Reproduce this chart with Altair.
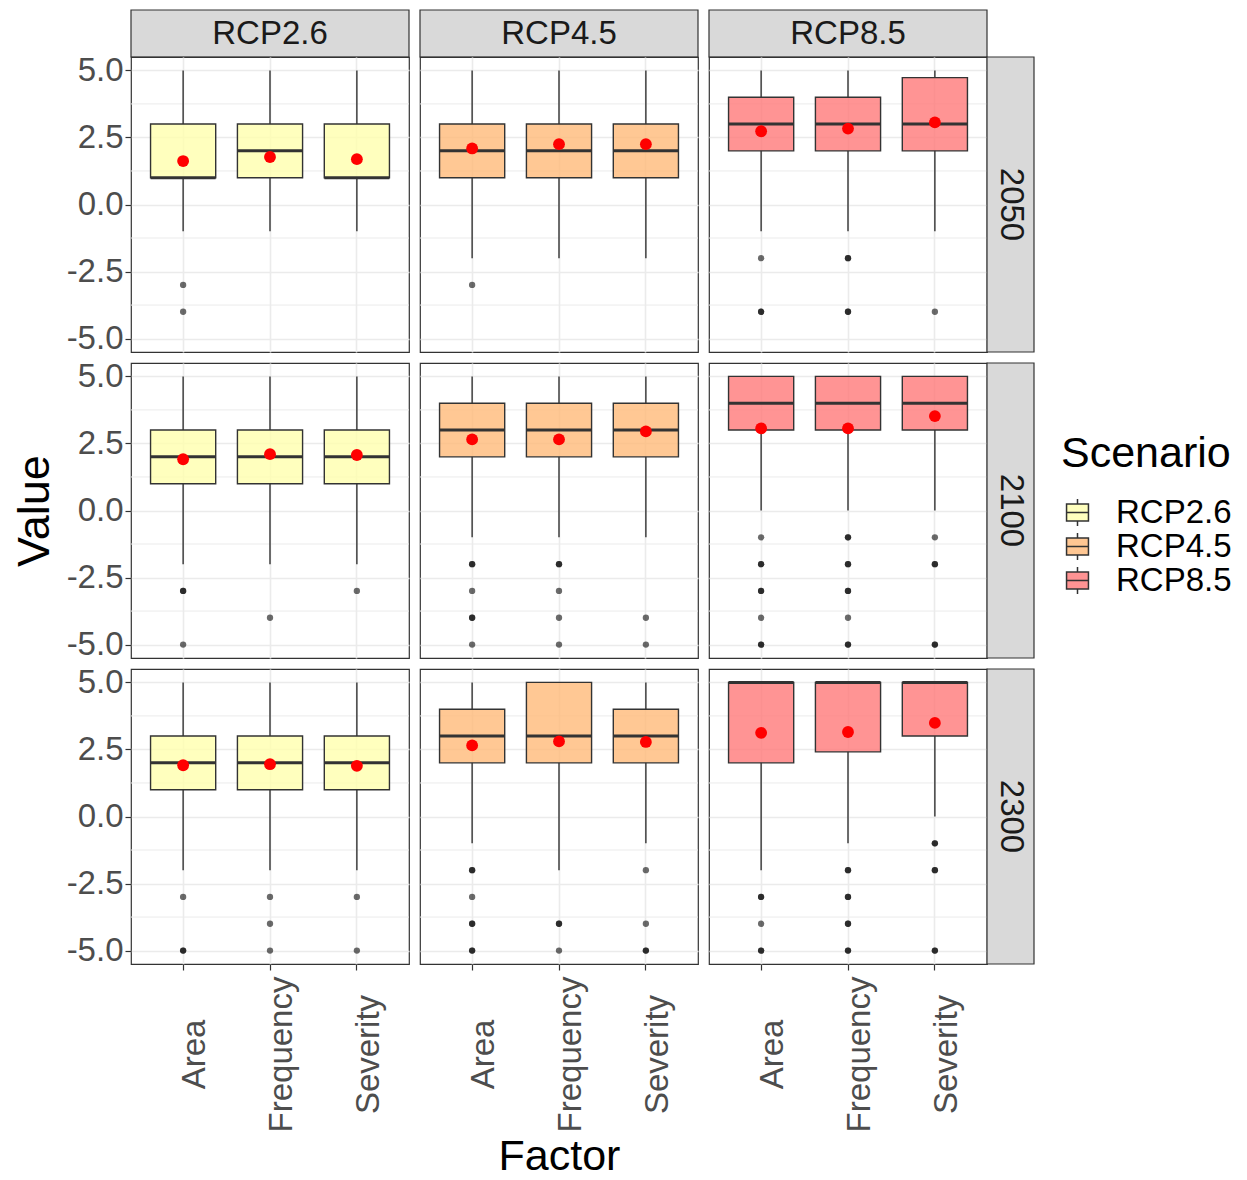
import altair as alt
import pandas as pd

scenarios = ["RCP2.6", "RCP4.5", "RCP8.5"]
years = ["2050", "2100", "2300"]
factors = ["Area", "Frequency", "Severity"]
fill_colors = ["#FFFFAE", "#FFBA79", "#FF7979"]

y_ticks = [-5.0, -2.5, 0.0, 2.5, 5.0]
minor_breaks = [-3.75, -1.25, 1.25, 3.75]

# stat[year][scenario] = [Area, Frequency, Severity]
lower = [
    [[-1, -1, -1], [-2, -2, -2], [-1, -1, -1]],
    [[-2, -2, -2], [-1, -1, -1], [0, 0, 0]],
    [[-2, -2, -2], [-1, -2, -1], [-2, -1, 0]],
]
q1 = [
    [[1, 1, 1], [1, 1, 1], [2, 2, 2]],
    [[1, 1, 1], [2, 2, 2], [3, 3, 3]],
    [[1, 1, 1], [2, 2, 2], [2, 2.41, 3]],
]
median = [
    [[1, 2, 1], [2, 2, 2], [3, 3, 3]],
    [[2, 2, 2], [3, 3, 3], [4, 4, 4]],
    [[2, 2, 2], [3, 3, 3], [5, 5, 5]],
]
q3 = [
    [[3, 3, 3], [3, 3, 3], [4, 4, 4.73]],
    [[3, 3, 3], [4, 4, 4], [5, 5, 5]],
    [[3, 3, 3], [4, 5, 4], [5, 5, 5]],
]
upper = [
    [[5, 5, 5], [5, 5, 5], [5, 5, 5]],
    [[5, 5, 5], [5, 5, 5], [5, 5, 5]],
    [[5, 5, 5], [5, 5, 5], [5, 5, 5]],
]
means = [
    [[1.62, 1.77, 1.69], [2.09, 2.25, 2.25], [2.73, 2.83, 3.06]],
    [[1.91, 2.10, 2.07], [2.65, 2.65, 2.95], [3.06, 3.06, 3.52]],
    [[1.91, 1.95, 1.89], [2.65, 2.80, 2.78], [3.12, 3.15, 3.49]],
]
outliers = [
    [
        [[-3, -4], [], []],
        [[-3], [], []],
        [[-2, -4, -4], [-2, -2, -4, -4], [-4]],
    ],
    [
        [[-3, -3, -5], [-4], [-3]],
        [[-2, -2, -3, -4, -4, -5], [-2, -2, -3, -4, -5], [-4, -5]],
        [[-1, -2, -2, -3, -3, -4, -5, -5], [-1, -1, -2, -2, -3, -3, -4, -5, -5], [-1, -2, -2, -5, -5]],
    ],
    [
        [[-3, -5, -5], [-3, -4, -5], [-3, -5]],
        [[-2, -2, -3, -4, -4, -5, -5], [-4, -4, -5], [-2, -4, -5, -5]],
        [[-3, -3, -4, -5, -5], [-2, -2, -3, -3, -4, -4, -5, -5], [-1, -1, -2, -2, -5, -5]],
    ],
]

FONT = "Liberation Sans"
PW, PH = 278, 295
SP = 11
STRIP = 47
DARK = "#333333"

legend_path = ("M-0.73,-0.57L0.73,-0.57L0.73,0.57L-0.73,0.57Z "
               "M-0.73,0L0.73,0 M0,-0.57L0,-0.9 M0,0.57L0,0.9")

yscale = alt.Scale(domain=[-5.5, 5.5], nice=False, zero=False)
xscale = alt.Scale(domain=factors, paddingInner=0.25, paddingOuter=0.225)
fill_scale = alt.Scale(domain=scenarios, range=fill_colors)
legend = alt.Legend(
    title="Scenario", orient="none", legendX=930, legendY=423,
    titleFontSize=43, titleFont=FONT, titleFontWeight="normal", titleColor="black",
    labelFontSize=33, labelFont=FONT, labelColor="black",
    symbolType=legend_path, symbolSize=900, symbolStrokeColor="black",
    symbolStrokeWidth=1.5, symbolOpacity=0.8, labelOffset=22,
    rowPadding=0, titlePadding=20, padding=0,
)
minus_fix = "replace(format(datum.value, '.1f'), '\u2212', '-')"


def y_axis(show, title):
    if show:
        return alt.Axis(values=y_ticks, labelExpr=minus_fix, labelFontSize=33,
                        labelFont=FONT, labelColor="#4D4D4D", labelPadding=2,
                        ticks=True, tickSize=6, tickColor=DARK, tickWidth=1.2,
                        domain=False, grid=True, gridColor="#EBEBEB", gridWidth=1.6,
                        title=title, titleFontSize=45, titleFont=FONT,
                        titleFontWeight="normal", titleColor="black", titlePadding=9)
    return alt.Axis(values=y_ticks, labels=False, ticks=False, domain=False,
                    grid=True, gridColor="#EBEBEB", gridWidth=1.6, title="")


def x_axis(show, title):
    if show:
        return alt.Axis(labels=True, labelAngle=270, labelAlign="center",
                        labelBaseline="top", labelPadding=84, labelOffset=-4,
                        labelFontSize=33, labelFont=FONT, labelColor="#4D4D4D",
                        labelOverlap=False, ticks=True, tickSize=6, tickColor=DARK,
                        tickWidth=1.2, domain=False, grid=True, gridColor="#EBEBEB",
                        gridWidth=1.6, title=title, titleFontSize=43, titleFont=FONT,
                        titleFontWeight="normal", titleColor="black", titlePadding=4)
    return alt.Axis(labels=False, ticks=False, domain=False, grid=True,
                    gridColor="#EBEBEB", gridWidth=1.6, title="")


def panel(yi, si):
    box = pd.DataFrame({
        "Factor": factors,
        "Scenario": scenarios[si],
        "lo": lower[yi][si], "q1": q1[yi][si], "med": median[yi][si],
        "q3": q3[yi][si], "hi": upper[yi][si], "mean": means[yi][si],
    })
    orows = []
    for fi, f in enumerate(factors):
        for v in outliers[yi][si][fi]:
            orows.append({"Factor": f, "value": v})
    out = pd.DataFrame(orows if orows else [{"Factor": "Area", "value": float("nan")}])

    ya = y_axis(si == 0, "Value" if (si == 0 and yi == 1) else "")
    xa = x_axis(yi == 2, "Factor" if (yi == 2 and si == 1) else "")
    X = alt.X("Factor:N", scale=xscale, axis=xa, sort=factors)

    def Y(field):
        return alt.Y(field, type="quantitative", scale=yscale, axis=ya)

    minor = alt.Chart(pd.DataFrame({"v": minor_breaks})).mark_rule(
        color="#EBEBEB", strokeWidth=1.0).encode(y=Y("v"))
    base = alt.Chart(box)
    wlo = base.mark_rule(color=DARK, strokeWidth=1.4).encode(x=X, y=Y("lo"), y2="q1:Q")
    whi = base.mark_rule(color=DARK, strokeWidth=1.4).encode(x=X, y=Y("q3"), y2="hi:Q")
    bar = base.mark_bar(stroke=DARK, strokeWidth=1.4, fillOpacity=0.8).encode(
        x=X, y=Y("q1"), y2="q3:Q",
        fill=alt.Fill("Scenario:N", scale=fill_scale, legend=legend))
    med = base.mark_tick(color=DARK, thickness=3, size=65, orient="horizontal",
                         opacity=1).encode(x=X, y=Y("med"))
    outl = alt.Chart(out).mark_circle(color="black", opacity=0.58, size=40).encode(
        x=X, y=Y("value"))
    mpt = base.mark_circle(color="#FF0000", opacity=1, size=140).encode(x=X, y=Y("mean"))
    return alt.layer(minor, wlo, whi, bar, med, outl, mpt).properties(width=PW, height=PH)


def top_strip(label):
    d = pd.DataFrame({"label": [label]})
    rect = alt.Chart(d).mark_rect(fill="#D9D9D9", stroke=DARK, strokeWidth=1.2).encode(
        x=alt.value(0), x2=alt.value(PW), y=alt.value(0), y2=alt.value(STRIP))
    txt = alt.Chart(d).mark_text(font=FONT, fontSize=33, color="#1A1A1A",
                                 align="center", baseline="middle").encode(
        text="label:N", x=alt.value(PW / 2), y=alt.value(STRIP / 2))
    return alt.layer(rect, txt).properties(width=PW, height=STRIP - SP,
                                           view=alt.ViewBackground(stroke="transparent"))


def side_strip(label):
    d = pd.DataFrame({"label": [label]})
    rect = alt.Chart(d).mark_rect(fill="#D9D9D9", stroke=DARK, strokeWidth=1.2).encode(
        x=alt.value(-SP), x2=alt.value(STRIP - SP), y=alt.value(0), y2=alt.value(PH))
    txt = alt.Chart(d).mark_text(font=FONT, fontSize=33, color="#1A1A1A", angle=90,
                                 align="center", baseline="middle").encode(
        text="label:N", x=alt.value((STRIP - 2 * SP) / 2), y=alt.value(PH / 2))
    return alt.layer(rect, txt).properties(width=STRIP - SP, height=PH,
                                           view=alt.ViewBackground(stroke="transparent"))


empty = alt.Chart(pd.DataFrame({"a": [0]})).mark_point(opacity=0, size=1).encode(
    x=alt.value((STRIP - SP) / 2), y=alt.value((STRIP - SP) / 2)).properties(
    width=STRIP - SP, height=STRIP - SP, view=alt.ViewBackground(stroke="transparent"))

cells = [top_strip(s) for s in scenarios] + [empty]
for yi, yr in enumerate(years):
    for si in range(3):
        cells.append(panel(yi, si))
    cells.append(side_strip(yr))

chart = alt.concat(*cells, columns=4, spacing=SP, bounds="flush", align="each").properties(
    padding={"left": 3, "top": 0, "right": 0, "bottom": 0}
).configure(font=FONT).configure_view(stroke=DARK, strokeWidth=1.2)

chart.save("out.html", embed_options={"renderer": "svg", "actions": False})
